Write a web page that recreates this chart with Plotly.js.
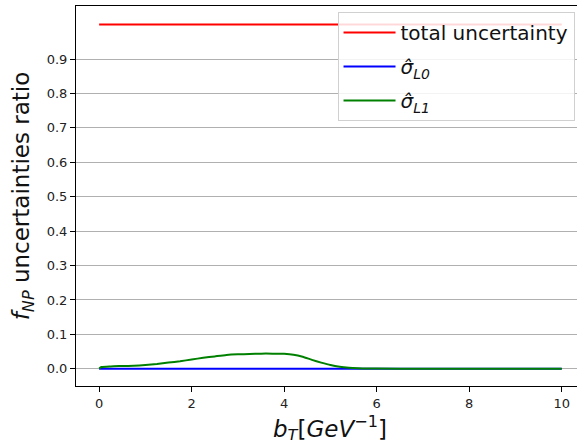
<!DOCTYPE html>
<html>
<head>
<meta charset="utf-8">
<script src="https://cdn.plot.ly/plotly-3.0.1.min.js"></script>
<style>
html, body { margin: 0; padding: 0; overflow: hidden; background: #fff; }
#chart { width: 577px; height: 440px; }
</style>
</head>
<body>
<div id="chart"></div>
<script>
const bT = [0, 0.05, 0.25, 0.5, 0.75, 1.0, 1.25, 1.5, 1.75, 2.0, 2.25, 2.5, 2.75, 3.0, 3.25, 3.5, 3.75, 4.0, 4.2, 4.4, 4.6, 4.8, 5.0, 5.2, 5.4, 5.6, 5.8, 6.0, 7, 8, 9, 10];
const totalUnc = [1, 1, 1, 1, 1, 1, 1, 1, 1, 1, 1, 1, 1, 1, 1, 1, 1, 1, 1, 1, 1, 1, 1, 1, 1, 1, 1, 1, 1, 1, 1, 1];
const sigmaL0 = [0, 0, 0, 0, 0, 0, 0, 0, 0, 0, 0, 0, 0, 0, 0, 0, 0, 0, 0, 0, 0, 0, 0, 0, 0, 0, 0, 0, 0, 0, 0, 0];
const sigmaL1 = [0.001, 0.005, 0.007, 0.008, 0.009, 0.011, 0.014, 0.018, 0.022, 0.027, 0.032, 0.036, 0.040, 0.042, 0.043, 0.044, 0.044, 0.0435, 0.041, 0.035, 0.026, 0.018, 0.011, 0.006, 0.003, 0.0015, 0.0008, 0.0005, 0.0003, 0.0002, 0.0001, 0.0001];
const yTicks = [0, 0.1, 0.2, 0.3, 0.4, 0.5, 0.6, 0.7, 0.8, 0.9];
const yTickText = ['0.0', '0.1', '0.2', '0.3', '0.4', '0.5', '0.6', '0.7', '0.8', '0.9'];
const xTicks = [0, 2, 4, 6, 8, 10];

const traces = [
  {x: bT, y: totalUnc, mode: 'lines', name: 'total uncertainty', legendgroup: 'a', line: {color: '#ff0000', width: 2}},
  {x: bT, y: sigmaL0, mode: 'lines', name: '<i>σ̂<sub>L0</sub></i>', legendgroup: 'b', line: {color: '#0000ff', width: 2}},
  {x: bT, y: sigmaL1, mode: 'lines', name: '<i>σ̂<sub>L1</sub></i>', legendgroup: 'c', line: {color: '#008000', width: 2, shape: 'spline', smoothing: 0.6}}
];

const layout = {
  width: 577, height: 440,
  margin: {l: 76, r: 0, t: 6, b: 54},
  paper_bgcolor: '#fff', plot_bgcolor: '#fff',
  font: {family: 'DejaVu Sans', color: '#222'},
  showlegend: true,
  legend: {
    x: 0.522, y: 0.984, xanchor: 'left', yanchor: 'top',
    bgcolor: 'rgba(255,255,255,0.85)', bordercolor: '#d0d0d0', borderwidth: 1,
    font: {size: 20, family: 'DejaVu Sans', color: '#111'},
    itemwidth: 52,
    tracegroupgap: 5
  },
  xaxis: {
    range: [-0.5, 10.33],
    tickvals: xTicks, ticktext: xTicks.map(String),
    showgrid: false, zeroline: false,
    showline: true, linecolor: '#000', linewidth: 1, mirror: true,
    ticks: 'outside', ticklen: 5, tickcolor: '#000',
    tickfont: {size: 13, color: '#222'}
  },
  yaxis: {
    range: [-0.05, 1.054],
    tickvals: yTicks, ticktext: yTickText,
    showgrid: true, gridcolor: '#b0b0b0', gridwidth: 1, zeroline: false,
    showline: true, linecolor: '#000', linewidth: 1, mirror: false,
    ticks: 'outside', ticklen: 5, tickcolor: '#000',
    tickfont: {size: 13, color: '#222'},
    title: {text: '<i>f<sub>NP</sub></i> uncertainties ratio', font: {size: 23, color: '#111'}, standoff: 10}
  },
  annotations: [{
    text: '<i>b<sub>T</sub></i>[<i>GeV</i><sup>−1</sup>]',
    xref: 'paper', yref: 'paper', x: (330 - 76) / 501, y: -0.064,
    xanchor: 'center', yanchor: 'top', showarrow: false,
    font: {size: 23, color: '#111', family: 'DejaVu Sans'}
  }]
};

Plotly.newPlot('chart', traces, layout, {displayModeBar: false, staticPlot: true});
</script>
</body>
</html>
